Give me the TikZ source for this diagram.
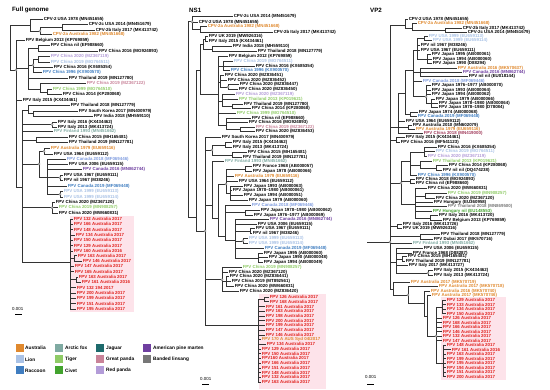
\documentclass[tikz,border=0pt]{standalone}
\usepackage{fontspec}
\setmainfont{Liberation Sans}
\definecolor{cAus}{HTML}{E0892E}
\definecolor{cLion}{HTML}{A9C2E6}
\definecolor{cRac}{HTML}{3F7DC0}
\definecolor{cCan}{HTML}{7F9CE0}
\definecolor{cFox}{HTML}{7FAAA2}
\definecolor{cTig}{HTML}{8FCB66}
\definecolor{cCiv}{HTML}{43A32E}
\definecolor{cJag}{HTML}{1D6A6C}
\definecolor{cGP}{HTML}{C98399}
\definecolor{cRP}{HTML}{B39CD8}
\definecolor{cAPM}{HTML}{6F3FA0}
\definecolor{cBL}{HTML}{777777}
\definecolor{cMar}{HTML}{A03A5A}
\definecolor{cRed}{HTML}{E0201C}
\definecolor{cPink}{HTML}{FDE3EA}
\newcommand\Lf[5]{\node[lab,text=#4] (#1) at (#2,#3) {#5};}
\newcommand\Eds[2]{\foreach \ch in {#2}{\draw[brn] (#1) |- (\ch);}}
\begin{document}
\begin{tikzpicture}[x=1pt,y=-1pt,
  lab/.style={anchor=west,inner sep=0pt,inner xsep=0.6pt,font=\fontsize{4.4}{5}\selectfont\bfseries},
  brn/.style={line width=0.5pt,draw=black!80},
  bsc/.style={draw=black!55,fill=white,line width=0.35pt},
  ttl/.style={anchor=west,inner sep=0pt,font=\fontsize{6.2}{7}\selectfont\bfseries},
  sw/.style={minimum size=8pt,inner sep=0pt,draw=none},
  lgt/.style={anchor=west,inner sep=0pt,font=\fontsize{4.8}{5.5}\selectfont\bfseries},
  sclab/.style={anchor=west,inner sep=0pt,font=\fontsize{4.4}{5}\selectfont},
  sbar/.style={line width=0.8pt}]
\useasboundingbox (0,0) rectangle (550,390);
\fill[white] (0,0) rectangle (550,390);
% pink highlights
\fill[cPink] (70,216) rectangle (134,312);
\fill[cPink] (259,294) rectangle (326,389);
\fill[cPink] (441,297) rectangle (506,380);
% titles
\node[ttl] (t1) at (12,10) {Full genome};
\node[ttl] (t2) at (189,10) {NS1};
\node[ttl] (t3) at (370,10) {VP2};
% ================= Tree 1 =================
\Lf{a1}{43}{19}{black}{CPV-2 USA 1978 (MN451655)}
\Lf{a2}{88}{24.7}{black}{CPV-2c USA 2014 (MN451679)}
\Lf{a3}{95}{30}{black}{CPV-2b Italy 2017 (MK413742)}
\Lf{a4}{52}{34.3}{cAus}{CPV-2a Australia 1982 (MN451668)}
\Lf{a5}{25}{40}{black}{FPV Belgium 2013 (KP769859)}
\Lf{a6}{50}{45.3}{black}{FPV China nil (EF988660)}
\Lf{a7}{98}{51}{black}{FPV China 2016 (MG924893)}
\Lf{a8}{50}{56.7}{cRP}{FPV China 2020 (MZ367119)}
\Lf{a9}{50}{62}{cLion}{FPV China 2019 (MG764511)}
\Lf{a10}{53}{67.3}{black}{FPV China 2016 (KX685354)}
\Lf{a11}{42}{72.7}{cRac}{FPV China 1996 (KX900570)}
\Lf{a12}{68}{78.3}{black}{FPV Thailand 2019 (MN127780)}
\Lf{a13}{86}{83.7}{cGP}{FPV China 2019 (MZ367122)}
\Lf{a14}{52}{89.3}{cTig}{FPV China 1999 (MG764510)}
\Lf{a15}{62}{94.7}{black}{FPV China 2014 (KP280068)}
\Lf{a16}{22}{100}{black}{FPV Italy 2015 (KX434461)}
\Lf{a17}{70}{105.3}{black}{FPV Thailand 2018 (MN127779)}
\Lf{a18}{78}{111}{black}{FPV South Korea 2017 (MN400979)}
\Lf{a19}{93}{116.3}{black}{FPV India 2018 (MH559110)}
\Lf{a20}{57}{122}{black}{FPV Italy 2016 (KX434462)}
\Lf{a21}{57}{127}{black}{FPV Italy 2013 (MK413724)}
\Lf{a22}{53}{131.7}{cFox}{FPV Finland 1993 (MN451662)}
\Lf{a23}{68}{137.3}{black}{FPV China 2015 (MH165481)}
\Lf{a24}{68}{142.7}{black}{FPV Thailand 2019 (MN127781)}
\Lf{a25}{50}{148.3}{cAus}{FPV Australia 1979 (EU659116)}
\Lf{a26}{53}{154}{black}{FPV USA 1964 (EU659112)}
\Lf{a27}{66}{159.3}{cCan}{FPV Canada 2018 (MF069446)}
\Lf{a28}{68}{164.3}{black}{FPV USA 2006 (EU659115)}
\Lf{a29}{82}{169.7}{cAPM}{FPV Canada 2016 (MN862744)}
\Lf{a30}{63}{175}{black}{FPV USA 1967 (EU659111)}
\Lf{a31}{63}{180.3}{black}{FPV nil 1967 (M38246)}
\Lf{a32}{67}{186}{cRac}{FPV Canada 2019 (MF069448)}
\Lf{a33}{63}{191.3}{cLion}{FPV USA 1999 (EU659113)}
\Lf{a34}{63}{197}{cLion}{FPV USA 1999 (EU659114)}
\Lf{a35}{55}{202.3}{black}{FPV China 2020 (MZ367120)}
\Lf{a36}{58}{207.7}{cTig}{FPV China 2019 (MN908257)}
\Lf{a37}{58}{213.3}{black}{FPV China 2020 (MW660831)}
\Lf{a38}{73}{219}{cRed}{FPV 132 Australia 2017}
\Lf{a39}{73}{224.3}{cRed}{FPV 166 Australia 2017}
\Lf{a40}{73}{229.7}{cRed}{FPV 148 Australia 2017}
\Lf{a41}{75}{235}{cRed}{FPV 134 Australia 2017}
\Lf{a42}{73}{240.3}{cRed}{FPV 150 Australia 2017}
\Lf{a43}{73}{245.7}{cRed}{FPV 129 Australia 2017}
\Lf{a44}{73}{251}{cRed}{FPV 160 Australia 2016}
\Lf{a45}{77}{255.7}{cRed}{FPV 163 Australia 2017}
\Lf{a46}{82}{261}{cRed}{FPV 146 Australia 2017}
\Lf{a47}{74}{266}{cRed}{FPV 147 Australia 2017}
\Lf{a48}{74}{271.5}{cRed}{FPV 165 Australia 2017}
\Lf{a49}{78}{277}{cRed}{FPV 163 Australia 2017}
\Lf{a50}{81}{282}{cRed}{FPV 161 Australia 2016}
\Lf{a51}{76}{287.7}{cRed}{FPV 132 194 2017}
\Lf{a52}{76}{293}{cRed}{FPV 200 Australia 2017}
\Lf{a53}{76}{298}{cRed}{FPV 199 Australia 2017}
\Lf{a54}{76}{303.5}{cRed}{FPV 151 Australia 2017}
\Lf{a55}{76}{309}{cRed}{FPV 195 Australia 2017}
\coordinate (aR) at (10,48);
\coordinate (aC) at (30,25);
\coordinate (aA) at (40,31);
\coordinate (aB) at (62,27.3);
\coordinate (aF) at (16,70);
\coordinate (aCA) at (28,68);
\coordinate (aCAa) at (38,48.2);
\coordinate (aCAb) at (33,65);
\coordinate (aCAc) at (38,59.3);
\coordinate (aCAd) at (40,89);
\coordinate (aCAe) at (47,92);
\coordinate (aG) at (22,187);
\coordinate (aT) at (28,110.6);
\coordinate (aTb) at (33,113.6);
\coordinate (aI) at (52,124.5);
\coordinate (aCT) at (36,140);
\coordinate (aAU) at (39,164);
\coordinate (aAP) at (44,151.2);
\coordinate (aCU) at (47,177);
\coordinate (aUP) at (60,177.7);
\coordinate (aUU) at (60,194.2);
\coordinate (aCN) at (52,207.7);
\coordinate (aRD) at (70,262);
\coordinate (aRa) at (74,258.4);
\coordinate (aRb) at (76,279.5);
\Eds{aR}{aC,aF}
\Eds{aC}{a1,aA}
\Eds{aA}{aB,a4}
\Eds{aB}{a2,a3}
\Eds{aF}{a5,aCA,a16,aG}
\Eds{aCA}{aCAa,aCAb,a12,aCAd}
\Eds{aCAa}{a6,a7}
\Eds{aCAb}{aCAc,a10,a11}
\Eds{aCAc}{a8,a9}
\Eds{aCAd}{a13,aCAe}
\Eds{aCAe}{a14,a15}
\Eds{aG}{aT,aI,a22,aCT,aAU,aCN,aRD}
\Eds{aT}{a17,aTb}
\Eds{aTb}{a18,a19}
\Eds{aI}{a20,a21}
\Eds{aCT}{a23,a24}
\Eds{aAU}{aAP,aCU}
\Eds{aAP}{a25,a26}
\Eds{aCU}{a27,a28,a29,aUP,a32,aUU}
\Eds{aUP}{a30,a31}
\Eds{aUU}{a33,a34}
\Eds{aCN}{a35,a36,a37}
\Eds{aRD}{a38,a39,a40,a41,a42,a43,a44,aRa,a47,a48,aRb,a51,a52,a53,a54,a55}
\Eds{aRa}{a45,a46}
\Eds{aRb}{a49,a50}
\foreach \p in {aF,aCAb,aA,aI,aAP,aAU,aUP,aUU,aCN}{\draw[bsc] (\p) circle (1.1pt);}
% ================= Tree 2 =================
\Lf{b1}{233}{16.7}{black}{CPV-2c USA 2014 (MN451679)}
\Lf{b2}{198}{22}{black}{CPV-2 USA 1978 (MN451655)}
\Lf{b3}{207}{26.7}{cAus}{CPV-2a Australia 1982 (MN451668)}
\Lf{b4}{273}{32.3}{black}{CPV-2b Italy 2017 (MK413742)}
\Lf{b5}{208}{36.7}{black}{FPV UK 2019 (MW926316)}
\Lf{b6}{208}{41.7}{black}{FPV Italy 2015 (KX434461)}
\Lf{b7}{232}{46.7}{black}{FPV India 2018 (MH559110)}
\Lf{b8}{257}{51.7}{black}{FPV Thailand 2018 (MN127779)}
\Lf{b9}{228}{56.7}{black}{FPV Belgium 2012 (KP769859)}
\Lf{b10}{233}{61.3}{cLion}{FPV China 2019 (MG764511)}
\Lf{b11}{255}{66}{black}{FPV China 2016 (KX685354)}
\Lf{b12}{230}{70.7}{cRac}{FPV China 1996 (KX900570)}
\Lf{b13}{224}{75.3}{black}{FPV China 2020 (MZ836451)}
\Lf{b14}{227}{80}{black}{FPV China 2020 (MZ836452)}
\Lf{b15}{239}{84.7}{black}{FPV China 2020 (MZ836447)}
\Lf{b16}{238}{89.3}{black}{FPV China 2020 (MZ836450)}
\Lf{b17}{235}{94.7}{cRP}{FPV China 2020 (MZ367119)}
\Lf{b18}{238}{99.3}{cTig}{FPV Thailand 2013 (KP019621)}
\Lf{b19}{243}{104}{black}{FPV Thailand 2019 (MN127780)}
\Lf{b20}{251}{108.7}{black}{FPV China 2014 (KP280068)}
\Lf{b21}{236}{113.3}{cTig}{FPV China 1999 (MG764510)}
\Lf{b22}{251}{118}{black}{FPV China nil (EF988660)}
\Lf{b23}{248}{122.7}{black}{FPV China 2016 (MG924893)}
\Lf{b24}{255}{127.3}{cGP}{FPV China 2019 (MZ367122)}
\Lf{b25}{255}{131.7}{black}{FPV China 2020 (MZ836453)}
\Lf{b26}{221}{137.3}{black}{FPV South Korea 2017 (MN400979)}
\Lf{b27}{232}{142.3}{black}{FPV Italy 2015 (KX434462)}
\Lf{b28}{232}{147.7}{black}{FPV Italy 2013 (MK413724)}
\Lf{b29}{247}{152.7}{black}{FPV China 2015 (MH165481)}
\Lf{b30}{242}{157.3}{black}{FPV Thailand 2019 (MN127781)}
\Lf{b31}{224}{161.7}{cFox}{FPV Finland 1993 (MN451662)}
\Lf{b32}{252}{166.7}{black}{FPV France 1968 (AB000057)}
\Lf{b33}{252}{171.7}{black}{FPV Japan 1978 (AB000066)}
\Lf{b34}{234}{176.7}{cAus}{FPV Australia 1979 (EU659116)}
\Lf{b35}{238}{181}{black}{FPV USA 1964 (EU659112)}
\Lf{b36}{243}{186}{black}{FPV Japan 1993 (AB000063)}
\Lf{b37}{232}{190.7}{black}{FPV Japan 1978--1980 (AB000061)}
\Lf{b38}{243}{195.7}{black}{FPV Japan 1994 (AB000051)}
\Lf{b39}{248}{200.3}{black}{FPV Japan 1979 (AB000060)}
\Lf{b40}{251}{205}{cCan}{FPV Canada 2018 (MF069446)}
\Lf{b41}{260}{210}{black}{FPV Japan 1978--1980 (AB000062)}
\Lf{b42}{253}{215}{black}{FPV Japan 1976--1977 (AB000069)}
\Lf{b43}{269}{219.3}{cAPM}{FPV Canada 2016 (MN862744)}
\Lf{b44}{257}{224}{black}{FPV USA 2006 (EU659115)}
\Lf{b45}{255}{228.7}{black}{FPV USA 1967 (EU659111)}
\Lf{b46}{252}{233.7}{black}{FPV nil 1967 (M38246)}
\Lf{b47}{248}{238.3}{cLion}{FPV USA 1999 (EU659113)}
\Lf{b48}{248}{243.3}{cLion}{FPV USA 1999 (EU659114)}
\Lf{b49}{264}{248}{cRac}{FPV Canada 2019 (MF069448)}
\Lf{b50}{263}{253}{black}{FPV Japan 1995 (AB000060)}
\Lf{b51}{268}{257.7}{black}{FPV Japan 1990 (AB000048)}
\Lf{b52}{263}{262.7}{black}{FPV Japan 1994 (AB000049)}
\Lf{b53}{242}{267.7}{cTig}{FPV China 2019 (MN908257)}
\Lf{b54}{228}{272.7}{black}{FPV China 2020 (MZ367120)}
\Lf{b55}{229}{276.7}{black}{FPV China 2020 (MZ836441)}
\Lf{b56}{231}{281.7}{black}{FPV China 2019 (MT892561)}
\Lf{b57}{234}{286.7}{black}{FPV China 2020 (MW660831)}
\Lf{b58}{239}{291.7}{black}{FPV China 2020 (MZ836420)}
\Lf{b59}{269}{297.3}{cRed}{FPV 126 Australia 2017}
\Lf{b60}{269}{301.7}{cRed}{FPV 168 Australia 2017}
\Lf{b61}{265}{306.7}{cRed}{FPV 161 Australia 2017}
\Lf{b62}{265}{311}{cRed}{FPV 163 Australia 2017}
\Lf{b63}{265}{316}{cRed}{FPV 198 Australia 2017}
\Lf{b64}{265}{320.7}{cRed}{FPV 200 Australia 2017}
\Lf{b65}{265}{325.3}{cRed}{FPV 199 Australia 2017}
\Lf{b66}{265}{330}{cRed}{FPV 147 Australia 2017}
\Lf{b67}{265}{335}{cRed}{FPV 146 Australia 2017}
\Lf{b68}{261}{339.3}{cAus}{FPV 170 A AUS Syd 04/2017}
\Lf{b69}{266}{344.3}{cRed}{FPV 134 Australia 2017}
\Lf{b70}{261}{349}{cRed}{FPV 129 Australia 2017}
\Lf{b71}{261}{353.7}{cRed}{FPV 150 Australia 2017}
\Lf{b72}{261}{358.3}{cRed}{FPV160 Australia 2017}
\Lf{b73}{261}{363.3}{cRed}{FPV 166 Australia 2017}
\Lf{b74}{261}{368}{cRed}{FPV 151 Australia 2017}
\Lf{b75}{261}{372.7}{cRed}{FPV 148 Australia 2017}
\Lf{b76}{261}{377.3}{cRed}{FPV 132 Australia 2017}
\Lf{b77}{261}{382}{cRed}{FPV 163 Australia 2017}
\coordinate (bR) at (188,120);
\coordinate (bC) at (192,21.7);
\coordinate (bCb) at (200,29.5);
\coordinate (bN) at (196,217);
\coordinate (bN2) at (200,70);
\coordinate (bU1) at (203,44.2);
\coordinate (bU2) at (205,39.2);
\coordinate (bU3) at (212,49.2);
\coordinate (bB1) at (218,94);
\coordinate (bB2) at (223,66);
\coordinate (bB3) at (220,82.3);
\coordinate (bB3a) at (228,87);
\coordinate (bB4) at (222,101.7);
\coordinate (bB4a) at (232,106.3);
\coordinate (bB5) at (226,124.9);
\coordinate (bB5a) at (240,129.5);
\coordinate (bN3) at (205,231);
\coordinate (bIT) at (212,150);
\coordinate (bIT1) at (225,145);
\coordinate (bIT2) at (232,155);
\coordinate (bJ) at (212,205);
\coordinate (bJ1) at (218,218);
\coordinate (bJ2) at (226,184);
\coordinate (bJ2a) at (245,169.2);
\coordinate (bJ2b) at (230,193);
\coordinate (bJ3) at (225,236);
\coordinate (bJ3a) at (245,212.5);
\coordinate (bJ3b) at (235,240);
\coordinate (bJ3c) at (250,231.2);
\coordinate (bJ3d) at (243,240.8);
\coordinate (bJ3e) at (258,257.8);
\coordinate (bCN) at (222,279.7);
\coordinate (bCN1) at (226,281.7);
\coordinate (bRD) at (258,325);
\coordinate (bRD1) at (264,299.5);
\Eds{bR}{bC,bN}
\Eds{bC}{b1,b2,bCb}
\Eds{bCb}{b3,b4}
\Eds{bN}{bN2,bN3}
\Eds{bN2}{bU1,bB1}
\Eds{bU1}{bU2,bU3}
\Eds{bU2}{b5,b6}
\Eds{bU3}{b7,b8}
\Eds{bB1}{b9,bB2,bB3,bB4,b21,bB5}
\Eds{bB2}{b10,b11,b12}
\Eds{bB3}{b13,b14,bB3a}
\Eds{bB3a}{b15,b16}
\Eds{bB4}{b17,b18,bB4a}
\Eds{bB4a}{b19,b20}
\Eds{bB5}{b22,b23,bB5a}
\Eds{bB5a}{b24,b25}
\Eds{bN3}{b26,bIT,bJ,bCN,bRD}
\Eds{bIT}{bIT1,bIT2}
\Eds{bIT1}{b27,b28}
\Eds{bIT2}{b29,b30}
\Eds{bJ}{b31,bJ1}
\Eds{bJ1}{bJ2,bJ3}
\Eds{bJ2}{bJ2a,b34,b35,bJ2b}
\Eds{bJ2a}{b32,b33}
\Eds{bJ2b}{b36,b37,b38,b39}
\Eds{bJ3}{b40,bJ3a,bJ3b}
\Eds{bJ3a}{b41,b42}
\Eds{bJ3b}{b43,b44,bJ3c,bJ3d,b49,bJ3e}
\Eds{bJ3c}{b45,b46}
\Eds{bJ3d}{b47,b48}
\Eds{bJ3e}{b50,b51,b52}
\Eds{bCN}{b53,b54,bCN1,b58}
\Eds{bCN1}{b55,b56,b57}
\Eds{bRD}{bRD1,b61,b62,b63,b64,b65,b66,b67,b68,b69,b70,b71,b72,b73,b74,b75,b76,b77}
\Eds{bRD1}{b59,b60}
\foreach \p in {bC,bB3a,bJ3d,bCN,bIT,bJ2,bN3}{\draw[bsc] (\p) circle (1.1pt);}
% ================= Tree 3 =================
\Lf{c1}{408}{19}{black}{CPV-2 USA 1978 (MN451655)}
\Lf{c2}{417}{23.3}{cAus}{CPV-2a Australia 1982 (MN451668)}
\Lf{c3}{462}{28}{black}{CPV-2b Italy 2017 (MK413742)}
\Lf{c4}{467}{32.3}{black}{CPV-2c USA 2014 (MN451679)}
\Lf{c5}{428}{36.7}{cLion}{FPV USA 1999 (EU659113)}
\Lf{c6}{432}{40.7}{cLion}{FPV USA 1999 (EU659114)}
\Lf{c7}{420}{45.7}{black}{FPV nil 1967 (M38246)}
\Lf{c8}{420}{50}{black}{FPV USA 1967 (EU659111)}
\Lf{c9}{431}{54.3}{black}{FPV Japan 1995 (AB000061)}
\Lf{c10}{432}{59}{black}{FPV Japan 1994 (AB000060)}
\Lf{c11}{432}{63.3}{black}{FPV Japan 1990 (D88294)}
\Lf{c12}{457}{68}{cAus}{FPV Australia 2016 (MK570637)}
\Lf{c13}{462}{72.3}{cAPM}{FPV Canada 2016 (MN862744)}
\Lf{c14}{468}{76.7}{black}{FPV nil nil (EU018144)}
\Lf{c15}{422}{81}{cCan}{FPV Canada 2018 (MF069446)}
\Lf{c16}{431}{85.7}{black}{FPV Japan 1976--1977 (AB000070)}
\Lf{c17}{431}{90}{black}{FPV Japan 1993 (AB000064)}
\Lf{c18}{431}{94.3}{black}{FPV Japan 1994 (AB000062)}
\Lf{c19}{435}{99}{black}{FPV Japan 1979 (AB000066)}
\Lf{c20}{438}{103.3}{black}{FPV Japan 1978--1980 (AB000064)}
\Lf{c21}{438}{107.7}{black}{FPV Japan 1978--1980 (D78084)}
\Lf{c22}{418}{112.3}{black}{FPV Japan 1974 (AB000068)}
\Lf{c23}{417}{116.7}{cRac}{FPV Canada 2019 (MF069448)}
\Lf{c24}{405}{121}{black}{FPV USA 1964 (EU659112)}
\Lf{c25}{412}{125.3}{black}{FPV Australia 2010 (MN602079)}
\Lf{c26}{415}{129.7}{cAus}{FPV Australia 1979 (EU659116)}
\Lf{c27}{423}{133.3}{cMar}{FPV China 2018 (MN419000)}
\Lf{c28}{405}{137.7}{black}{FPV Italy 2015 (KX434461)}
\Lf{c29}{400}{142}{black}{FPV China 2016 (MF541123)}
\Lf{c30}{437}{147.7}{black}{FPV China 2016 (KX685354)}
\Lf{c31}{435}{151.7}{cLion}{FPV China 2019 (MG764511)}
\Lf{c32}{427}{156}{cRP}{FPV China 2020 (MZ367119)}
\Lf{c33}{432}{161}{cTig}{FPV Thailand 2013 (KP019621)}
\Lf{c34}{448}{165.7}{black}{FPV China 2014 (KP280068)}
\Lf{c35}{442}{170}{black}{FPV nil nil (DQ474238)}
\Lf{c36}{417}{175}{cRac}{FPV China 1996 (KX900570)}
\Lf{c37}{415}{179.3}{black}{FPV China 2018 (MG924893)}
\Lf{c38}{415}{183.7}{black}{FPV China nil (EF988660)}
\Lf{c39}{427}{188.7}{black}{FPV China 2020 (MW660831)}
\Lf{c40}{447}{193.7}{cTig}{FPV China 2019 (MN908257)}
\Lf{c41}{435}{198}{black}{FPV China 2020 (MZ367120)}
\Lf{c42}{433}{202.7}{black}{FPV Hungary (EU360958)}
\Lf{c43}{447}{206.7}{cBL}{FPV Thailand 2018 (MN869500)}
\Lf{c44}{432}{211.7}{cCiv}{FPV Hungary nil (EU148553)}
\Lf{c45}{438}{215.7}{black}{FPV Italy 2016 (MK413720)}
\Lf{c46}{442}{220}{black}{FPV Belgium 2013 (KP769859)}
\Lf{c47}{402}{224.3}{black}{FPV Italy 2016 (MK413726)}
\Lf{c48}{402}{228.7}{black}{FPV UK 2019 (MW926316)}
\Lf{c49}{440}{234.3}{black}{FPV Thailand 2018 (MN127779)}
\Lf{c50}{433}{239}{black}{FPV Dubai 2017 (MK570716)}
\Lf{c51}{412}{243.7}{cFox}{FPV Finland 1993 (MN451662)}
\Lf{c52}{423}{248.3}{black}{FPV USA 2006 (EU659115)}
\Lf{c53}{412}{253}{black}{FPV France 1968 (D88287)}
\Lf{c54}{407}{256.7}{black}{FPV China 2015 (MH165481)}
\Lf{c55}{405}{261}{black}{FPV Thailand 2019 (MN127781)}
\Lf{c56}{408}{265.7}{black}{FPV Italy 2017 (MK413727)}
\Lf{c57}{433}{270.7}{black}{FPV Italy 2015 (KX434462)}
\Lf{c58}{433}{275.3}{black}{FPV Italy 2013 (MK413724)}
\Lf{c59}{410}{282.7}{cAus}{FPV Australia 2017 (MK570719)}
\Lf{c60}{438}{286.7}{cAus}{FPV Australia 2017 (MK570718)}
\Lf{c61}{430}{291}{cAus}{FPV Australia 2016 (MK570740)}
\Lf{c62}{431}{295.3}{cAus}{FPV Australia 2017 (MK570746)}
\Lf{c63}{446}{300}{cRed}{FPV 129 Australia 2017}
\Lf{c64}{446}{304.5}{cRed}{FPV 133 Australia 2017}
\Lf{c65}{446}{309}{cRed}{FPV 134 Australia 2017}
\Lf{c66}{446}{313.5}{cRed}{FPV 150 Australia 2017}
\Lf{c67}{442}{318}{cRed}{FPV 126 Australia 2017}
\Lf{c68}{442}{322.5}{cRed}{FPV 168 Australia 2017}
\Lf{c69}{442}{327}{cRed}{FPV 166 Australia 2017}
\Lf{c70}{442}{331.5}{cRed}{FPV 146 Australia 2017}
\Lf{c71}{442}{336}{cRed}{FPV 132 Australia 2017}
\Lf{c72}{442}{340.5}{cRed}{FPV 147 Australia 2017}
\Lf{c73}{446}{345}{cRed}{FPV 148 Australia 2017}
\Lf{c74}{451}{349.5}{cRed}{FPV 161 Australia 2016}
\Lf{c75}{446}{354}{cRed}{FPV 163 Australia 2017}
\Lf{c76}{446}{358.5}{cRed}{FPV 199 Australia 2017}
\Lf{c77}{446}{363}{cRed}{FPV 195 Australia 2017}
\Lf{c78}{446}{367.5}{cRed}{FPV 194 Australia 2017}
\Lf{c79}{446}{372}{cRed}{FPV 151 Australia 2017}
\Lf{c80}{446}{376.5}{cRed}{FPV 200 Australia 2017}
\coordinate (cRs) at (367,242);
\coordinate (cR) at (390,242);
\coordinate (cC) at (405,25.6);
\coordinate (cCa) at (412,28.5);
\coordinate (cCb) at (445,30.2);
\coordinate (cV2) at (398,127);
\coordinate (cV1) at (405,93);
\coordinate (cVJ) at (413,70);
\coordinate (cVJa) at (417,50);
\coordinate (cVJa1) at (424,38.7);
\coordinate (cVJa2) at (427,58.9);
\coordinate (cVJb) at (420,72.3);
\coordinate (cVJc) at (426,96.7);
\coordinate (cVJc1) at (431,103.3);
\coordinate (cVJ2) at (410,114.5);
\coordinate (cV3) at (408,127.5);
\coordinate (cI2) at (396,139.8);
\coordinate (cVC) at (401,183);
\coordinate (cVC1) at (410,161);
\coordinate (cVC1a) at (424,151.8);
\coordinate (cVC1b) at (420,165.5);
\coordinate (cVC1c) at (436,167.8);
\coordinate (cVC2) at (410,181.5);
\coordinate (cVC3) at (415,204);
\coordinate (cVC3a) at (425,195.8);
\coordinate (cVC3b) at (430,217.8);
\coordinate (cIU) at (397,226.5);
\coordinate (cTD) at (420,236.7);
\coordinate (cVF) at (396,262);
\coordinate (cVF1) at (402,258.8);
\coordinate (cVF2) at (428,273);
\coordinate (cVA) at (393,289);
\coordinate (cVA2) at (408,295);
\coordinate (cVA3) at (424,303);
\coordinate (cVA4) at (427,316);
\coordinate (cVR) at (436,336);
\coordinate (cVRa) at (442,306.8);
\coordinate (cVRb) at (443,363);
\draw[brn] (cRs) -- (cR);
\Eds{cR}{cC,cV2,cI2,cVC,cIU,cTD,c51,cVF,cVA}
\Eds{cC}{c1,cCa}
\Eds{cCa}{c2,cCb}
\Eds{cCb}{c3,c4}
\Eds{cV2}{cV1,c24,cV3,c27}
\Eds{cV1}{cVJ,cVJ2}
\Eds{cVJ}{cVJa,cVJb,c15,cVJc}
\Eds{cVJa}{cVJa1,c7,c8,cVJa2}
\Eds{cVJa1}{c5,c6}
\Eds{cVJa2}{c9,c10,c11}
\Eds{cVJb}{c12,c13,c14}
\Eds{cVJc}{c16,c17,c18,cVJc1}
\Eds{cVJc1}{c19,c20,c21}
\Eds{cVJ2}{c22,c23}
\Eds{cV3}{c25,c26}
\Eds{cI2}{c28,c29}
\Eds{cVC}{cVC1,cVC2,cVC3}
\Eds{cVC1}{cVC1a,cVC1b,c36}
\Eds{cVC1a}{c30,c31,c32}
\Eds{cVC1b}{c33,cVC1c}
\Eds{cVC1c}{c34,c35}
\Eds{cVC2}{c37,c38}
\Eds{cVC3}{c39,cVC3a,c42,c43,c44,cVC3b}
\Eds{cVC3a}{c40,c41}
\Eds{cVC3b}{c45,c46}
\Eds{cIU}{c47,c48}
\Eds{cTD}{c49,c50}
\Eds{cVF}{c52,c53,cVF1,c56,cVF2}
\Eds{cVF1}{c54,c55}
\Eds{cVF2}{c57,c58}
\Eds{cVA}{c59,cVA2}
\Eds{cVA2}{c60,cVA3}
\Eds{cVA3}{c61,cVA4}
\Eds{cVA4}{c62,cVR}
\Eds{cVR}{cVRa,c67,c68,c69,c70,c71,c72,cVRb}
\Eds{cVRa}{c63,c64,c65,c66}
\Eds{cVRb}{c73,c74,c75,c76,c77,c78,c79,c80}
\foreach \p in {cR,cVJc,cVA2,cVR,cVC,cVF2}{\draw[bsc] (\p) circle (1.1pt);}
% ================= scale bars =================
\node[sclab] (s1) at (12,309) {0.001};
\coordinate (s1a) at (15,314.5); \coordinate (s1b) at (22,314.5);
\draw[sbar] (s1a) -- (s1b);
\node[sclab] (s2) at (200,379) {0.001};
\coordinate (s2a) at (202,384.5); \coordinate (s2b) at (209,384.5);
\draw[sbar] (s2a) -- (s2b);
\node[sclab] (s3) at (365,377) {0.001};
\coordinate (s3a) at (367,384); \coordinate (s3b) at (374,384);
\draw[sbar] (s3a) -- (s3b);
% ================= legend =================
\node[sw,fill=cAus] (g1) at (19.5,348) {};  \node[lgt] (g1t) at (25,348) {Australia};
\node[sw,fill=cLion] (g2) at (19.5,359.5) {}; \node[lgt] (g2t) at (25,359.5) {Lion};
\node[sw,fill=cRac] (g3) at (19.5,370.5) {}; \node[lgt] (g3t) at (25,370.5) {Raccoon};
\node[sw,fill=cFox] (g4) at (58.5,348) {}; \node[lgt] (g4t) at (65,348) {Arctic fox};
\node[sw,fill=cTig] (g5) at (58.5,359.5) {}; \node[lgt] (g5t) at (65,359.5) {Tiger};
\node[sw,fill=cCiv] (g6) at (58.5,370.5) {}; \node[lgt] (g6t) at (65,370.5) {Civet};
\node[sw,fill=cJag] (g7) at (99.5,348) {}; \node[lgt] (g7t) at (106,348) {Jaguar};
\node[sw,fill=cGP] (g8) at (99.5,359.5) {}; \node[lgt] (g8t) at (106,359.5) {Great panda};
\node[sw,fill=cRP] (g9) at (99.5,370.5) {}; \node[lgt] (g9t) at (106,370.5) {Red panda};
\node[sw,fill=cAPM] (g10) at (146.5,348) {}; \node[lgt] (g10t) at (153,348) {American pine marten};
\node[sw,fill=cBL] (g11) at (146.5,359.5) {}; \node[lgt] (g11t) at (153,359.5) {Banded linsang};
\end{tikzpicture}
\end{document}
